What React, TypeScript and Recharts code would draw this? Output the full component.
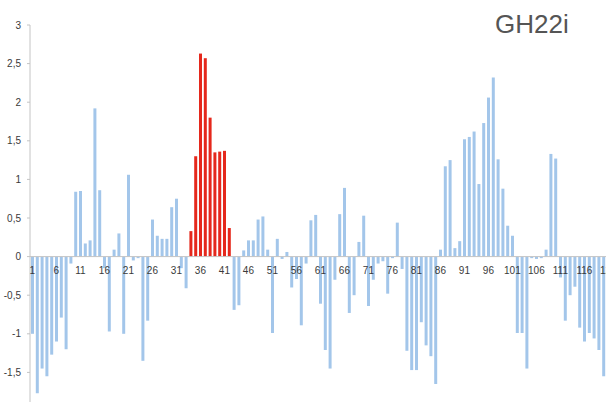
import React from "react";
import {
  ComposedChart,
  Bar,
  Line,
  XAxis,
  YAxis,
  ReferenceLine,
  Cell,
  LabelList,
} from "recharts";

const categories: string[] = Array.from({ length: 121 }, (_, i) => String(i + 1));

const values: number[] = [
  -1.0, -1.77, -1.45, -1.55, -1.27, -1.1, -0.79, -1.2, -0.09, 0.84,
  0.85, 0.17, 0.21, 1.92, 0.86, -0.15, -0.97, 0.09, 0.3, -1.0,
  1.06, -0.05, -0.02, -1.35, -0.83, 0.48, 0.27, 0.23, 0.23, 0.64,
  0.75, -0.15, -0.41, 0.33, 1.3, 2.63, 2.57, 1.8, 1.35, 1.36,
  1.37, 0.37, -0.69, -0.63, 0.08, 0.21, 0.21, 0.48, 0.52, 0.09,
  -0.99, 0.23, -0.03, 0.06, -0.4, -0.29, -0.89, -0.09, 0.47, 0.54,
  -0.61, -1.21, -1.45, -0.3, 0.55, 0.89, -0.73, -0.5, 0.19, 0.53,
  -0.64, -0.3, -0.09, -0.06, -0.48, -0.02, 0.44, -0.16, -1.22, -1.47,
  -1.47, -0.85, -1.15, -1.29, -1.65, 0.09, 1.17, 1.25, 0.11, 0.2,
  1.52, 1.55, 1.62, 0.94, 1.73, 2.06, 2.32, 1.26, 0.88, 0.4,
  0.27, -0.99, -0.99, -1.45, -0.02, -0.03, -0.02, 0.09, 1.33, 1.27,
  -0.27, -0.83, -0.5, -0.39, -0.92, -1.1, -0.99, -1.06, -1.21, -1.55,
  -1.5,
];

const highlighted: string[] = ["34", "35", "36", "37", "38", "39", "40", "41", "42"];

const tickLabels: string[] = categories.filter((_, i) => i % 5 === 0);

const yTicks: number[] = [-1.5, -1, -0.5, 0, 0.5, 1, 1.5, 2, 2.5, 3];

const title = "GH22i";

const data = categories.map((c, i) => ({
  name: c,
  value: values[i],
  zero: 0,
  tick: tickLabels.includes(c) ? c : "",
}));

const BLUE = "#a3c6ea";
const RED = "#e5281c";

const TickLabel = (props: any) => {
  const v = props.value;
  if (!v) return null;
  const x = props.x ?? props.viewBox?.x;
  const y = props.y ?? props.viewBox?.y;
  return (
    <text
      x={x}
      y={y + 17}
      textAnchor="middle"
      fontSize={10}
      fontFamily="Liberation Sans, Arial, sans-serif"
      fill="#3a3a3a"
    >
      {v}
    </text>
  );
};

export default function App() {
  return (
    <div
      style={{
        position: "absolute",
        left: 0,
        top: 0,
        width: 606,
        height: 402,
        overflow: "hidden",
        background: "#ffffff",
      }}
    >
      <ComposedChart
        width={620}
        height={430}
        data={data}
        margin={{ top: 25, right: 9.2, left: 0, bottom: 19 }}
      >
        <XAxis dataKey="name" hide />
        <YAxis
          width={30}
          domain={[-2, 3]}
          ticks={yTicks}
          interval={0}
          axisLine={{ stroke: "#c4c4c4" }}
          tickLine={{ stroke: "#c4c4c4" }}
          tickSize={3}
          tickMargin={6}
          tick={{ fontSize: 10, fill: "#3a3a3a", fontFamily: "Liberation Sans, Arial, sans-serif" }}
          tickFormatter={(v: number) => String(v).replace(".", ",")}
        />
        <ReferenceLine y={0} stroke="#c4c4c4" strokeWidth={1} />
        <Bar dataKey="value" barSize={3} isAnimationActive={false}>
          {data.map((d) => (
            <Cell key={d.name} fill={highlighted.includes(d.name) ? RED : BLUE} />
          ))}
        </Bar>
        <Line
          dataKey="zero"
          stroke="none"
          dot={false}
          activeDot={false}
          isAnimationActive={false}
        >
          <LabelList dataKey="tick" content={TickLabel} />
        </Line>
      </ComposedChart>
      <div
        style={{
          position: "absolute",
          left: 495,
          top: 11,
          fontSize: 26,
          lineHeight: "26px",
          fontFamily: "Liberation Sans, Arial, sans-serif",
          color: "#555555",
          whiteSpace: "nowrap",
        }}
      >
        {title}
      </div>
    </div>
  );
}
